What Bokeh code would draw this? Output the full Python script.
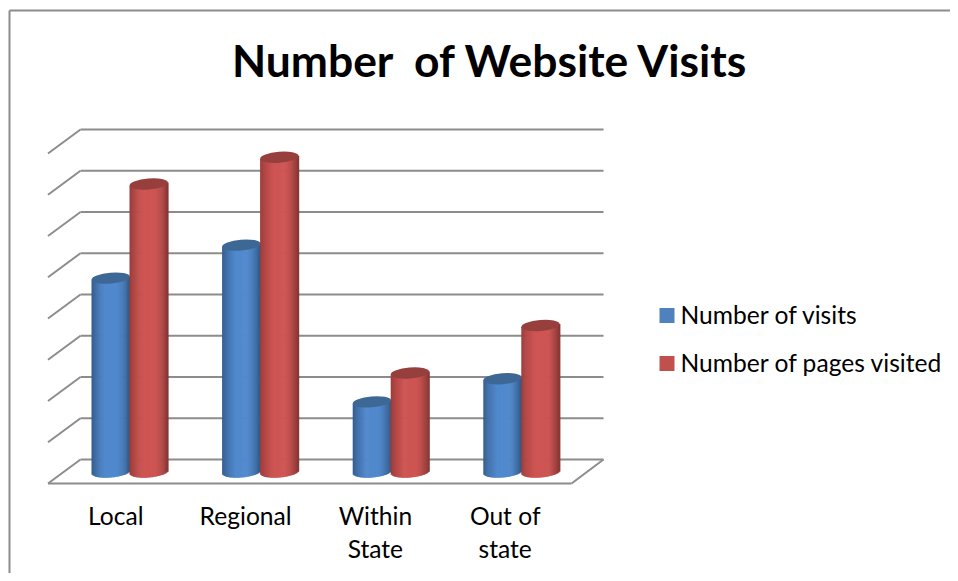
import math
from bokeh.plotting import figure
from bokeh.core.properties import value
from bokeh.embed import file_html
from bokeh.resources import INLINE

title_text = "Number\u00a0 of Website Visits"
categories = ["Local", "Regional", "Within\nState", "Out of\nstate"]
series_names = ["Number of visits", "Number of pages visited"]
visits = [4.7, 5.5, 1.7, 2.26]
pages = [6.98, 7.63, 2.4, 3.55]
grid_levels = [0, 1, 2, 3, 4, 5, 6, 7, 8]

W, H = 950, 573
PX_X = 130.6   # px per category
PX_Y = 41.25   # px per value unit
def X(px): return (px - 129.6) / PX_X
def Y(py): return (459 - py) / PX_Y

p = figure(width=W, height=H, output_backend="svg", toolbar_location=None,
           x_range=(X(0), X(W)), y_range=(Y(H), Y(0)),
           min_border=0, outline_line_color=None)
p.axis.visible = False
p.grid.visible = False
p.background_fill_color = "white"
p.border_fill_color = "white"

# chart frame
p.line([X(9), X(9)], [Y(H), Y(10)], line_color="#8c8c8c", line_width=2)
p.line([X(9), X(W)], [Y(10), Y(10)], line_color="#8c8c8c", line_width=2)

GRID = "#8c8c8c"
back_left, back_right = X(80), X(603)
front_left, front_right = X(47.5), X(571)
depth = 24 / PX_Y
# back wall grid + left wall diagonals
p.segment([back_left] * 9, grid_levels, [back_right] * 9, grid_levels, line_color=GRID, line_width=2)
p.segment([front_left] * 9, [g - depth for g in grid_levels], [back_left] * 9, grid_levels,
          line_color=GRID, line_width=2)
# floor
p.segment([front_left], [-depth], [front_right], [-depth], line_color=GRID, line_width=2)
p.segment([front_right], [-depth], [back_right], [0], line_color=GRID, line_width=2)

def lerp(c1, c2, t):
    return tuple(c1[i] + (c2[i] - c1[i]) * t for i in range(3))

def hexc(c):
    return "#%02x%02x%02x" % tuple(int(round(v)) for v in c)

BLUE = dict(edgeL=(50, 88, 135), mid=(81, 137, 205), edgeR=(48, 84, 128), top="#3d6896", sw="#4f81bd")
RED = dict(edgeL=(150, 58, 56), mid=(205, 85, 83), edgeR=(130, 52, 50), top="#963f3c", sw="#c0504d")

HALF = 19.2            # px half-width of cylinder
B = 5.5                # px semi-minor axis
TILT = 1.6             # px rise from centre to right edge
BASE = 12.5 / PX_Y     # centre of base below back-wall zero

def cylinder(cx_px, val, pal):
    n = 40
    top_y = val - BASE
    ls, rs, ts, bs, cs = [], [], [], [], []
    for k in range(n):
        u0 = -1 + 2 * k / n
        u1 = -1 + 2 * (k + 1) / n
        u = (u0 + u1) / 2
        if u < -0.2:
            col = lerp(pal["edgeL"], pal["mid"], min(1, ((u + 1) / 0.7)) ** 0.7)
        elif u < 0.25:
            col = pal["mid"]
        else:
            col = lerp(pal["mid"], pal["edgeR"], ((u - 0.25) / 0.75) ** 1.8)
        ls.append(X(cx_px + u0 * HALF))
        rs.append(X(cx_px + u1 * HALF + 0.7))
        ts.append(top_y + TILT * u / PX_Y)
        bs.append(-BASE + (TILT * u - B * math.sqrt(max(0, 1 - u * u))) / PX_Y)
        cs.append(hexc(col))
    p.quad(left=ls, right=rs, top=ts, bottom=bs, fill_color=cs, line_color=None)
    p.ellipse(x=[X(cx_px)], y=[top_y], width=2 * HALF, height=2 * B, width_units="screen",
              height_units="screen", angle=math.atan2(TILT, HALF),
              fill_color=pal["top"], line_color=None)

for i, (a, b) in enumerate(zip(visits, pages)):
    c_px = 129.2 + i * PX_X
    cylinder(c_px - 19, a, BLUE)
    cylinder(c_px + 19, b, RED)

# title
FONT = value("Lato")
p.text(x=[X(490)], y=[Y(59)], text=[title_text], text_font=FONT, text_font_size="44.4px", text_font_style="bold",
       text_color="#000000", text_align="center", text_baseline="middle")

# category labels
for i, cat in enumerate(categories):
    for j, part in enumerate(cat.split("\n")):
        p.text(x=[X(115.3 + i * 129.8)], y=[Y(515 + j * 33)], text=[part], text_font=FONT, text_font_size="24.6px",
               text_color="#000000", text_align="center", text_baseline="middle")

# legend
for name, pal, py in zip(series_names, [BLUE, RED], [315, 363]):
    p.quad(left=[X(659)], right=[X(674)], top=[Y(py - 7.5)], bottom=[Y(py + 7.5)], fill_color=pal["sw"], line_color=None)
    p.text(x=[X(680)], y=[Y(py - 1)], text=[name], text_font=FONT, text_font_size="24.6px",
           text_color="#000000", text_align="left", text_baseline="middle")

open("out.html", "w").write(file_html(p, INLINE))
